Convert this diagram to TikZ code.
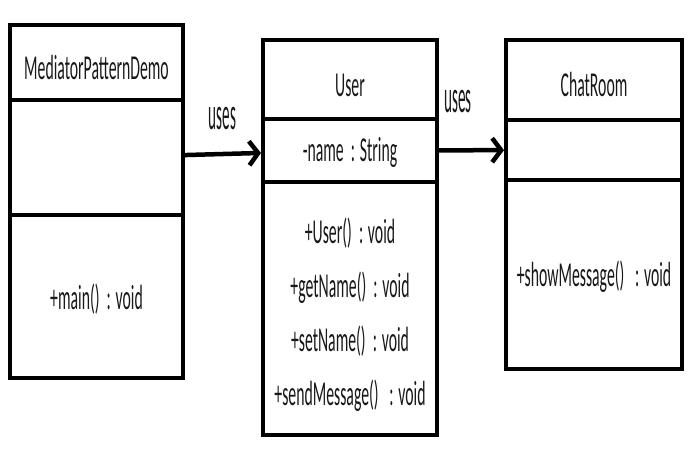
\documentclass[tikz,border=0pt]{standalone}
\usepackage{fontspec}
\setmainfont[FakeStretch=0.45]{Carlito}
\newfontfamily\usesfont[FakeStretch=0.33]{Carlito}
\usepackage{tikz}
\usetikzlibrary{arrows.meta}

\begin{document}
\begin{tikzpicture}[x=1pt, y=-1pt,
        class_style/.style={rectangle, draw=black, line width=4pt, inner sep=0pt, align=center,
            text=black!90, font=\fontsize{35}{54}\selectfont},
        edge_style/.style={draw=black, line width=4.5pt, -{Straight Barb[length=9pt,width=24pt]}},
        uses_style/.style={inner sep=0pt, text=black!90, font=\usesfont\fontsize{46}{46}\selectfont}]

        \useasboundingbox (0,0) rectangle (691,458);

        % MediatorPatternDemo
        \node [class_style, minimum width=173pt, minimum height=75pt, text height=34pt] (demo_name) at (96.5,62.5) {MediatorPatternDemo};
        \node [class_style, minimum width=173pt, minimum height=115pt] (demo_attr) at (96.5,157.5) {};
        \node [class_style, minimum width=173pt, minimum height=163pt, text height=31pt] (demo_ops) at (96.5,296.5) {+main()\ \ : void};

        % User
        \node [class_style, minimum width=174pt, minimum height=79pt, text height=34pt] (user_name) at (350,79.5) {User};
        \node [class_style, minimum width=174pt, minimum height=63pt, text height=29pt] (user_attr) at (350,150.5) {-name\ \ : String};
        \node [class_style, minimum width=174pt, minimum height=253pt] (user_ops) at (350,308.5)
            {\strut+User()\ \ : void\\+getName()\ \ : void\\+setName()\ \ : void\\+sendMessage()\ \ \ : void};

        % ChatRoom
        \node [class_style, minimum width=176pt, minimum height=80pt, text height=34pt] (chat_name) at (594,80) {ChatRoom};
        \node [class_style, minimum width=176pt, minimum height=60pt] (chat_attr) at (594,150) {};
        \node [class_style, minimum width=176pt, minimum height=189pt, text height=31pt] (chat_ops) at (594,274.5) {+showMessage()\ \ \ : void};

        \draw [edge_style] (demo_attr) -- (user_attr);
        \draw [edge_style] (user_attr) -- (chat_attr);

        \node [uses_style] (uses_a) at (222.5,118.5) {uses};
        \node [uses_style] (uses_b) at (458,102) {uses};
\end{tikzpicture}
\end{document}
